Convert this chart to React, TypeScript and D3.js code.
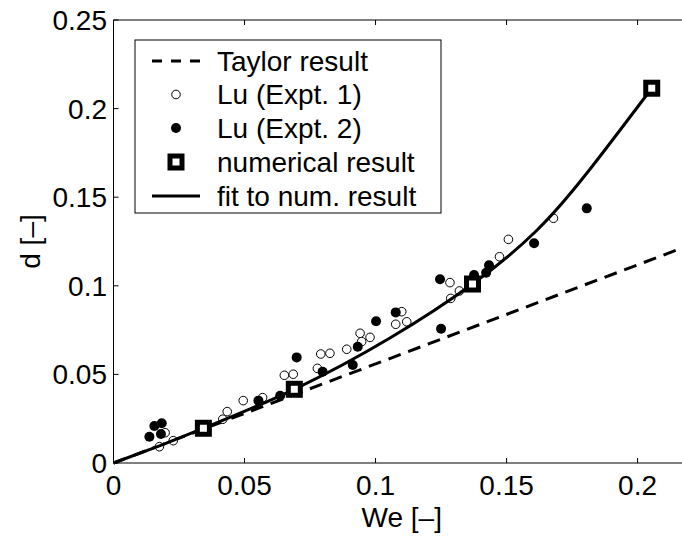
import React from "react";
import * as d3 from "d3";

const W = 682;
const H = 537;

const xTicks = [0, 0.05, 0.1, 0.15, 0.2];
const yTicks = [0, 0.05, 0.1, 0.15, 0.2, 0.25];
const xTickLabels = ["0", "0.05", "0.1", "0.15", "0.2"];
const yTickLabels = ["0", "0.05", "0.1", "0.15", "0.2", "0.25"];

// Taylor result (dashed)
const taylorWe = [0, 0.22];
const taylorD = [0, 0.123];

// Lu Expt. 1 (open circles)
const lu1We = [0.0175, 0.0197, 0.0228, 0.0417, 0.0434, 0.0495, 0.0569, 0.0652, 0.0686, 0.0778, 0.0791, 0.0826, 0.089, 0.0941, 0.0947, 0.0979, 0.1077, 0.11, 0.1119, 0.1284, 0.1287, 0.132, 0.1473, 0.1507, 0.1679];
const lu1D = [0.0092, 0.0171, 0.0126, 0.0247, 0.029, 0.0352, 0.0369, 0.0495, 0.0501, 0.0534, 0.0615, 0.0619, 0.0642, 0.0732, 0.0685, 0.0709, 0.0783, 0.0854, 0.0797, 0.1018, 0.0929, 0.0971, 0.1164, 0.1262, 0.1381];

// Lu Expt. 2 (filled circles)
const lu2We = [0.0137, 0.0156, 0.0184, 0.0181, 0.0553, 0.0636, 0.0699, 0.0798, 0.0913, 0.0932, 0.1002, 0.1077, 0.1246, 0.125, 0.1376, 0.1422, 0.1433, 0.1605, 0.1806];
const lu2D = [0.0148, 0.0209, 0.0224, 0.0164, 0.0352, 0.038, 0.0596, 0.0515, 0.0553, 0.0656, 0.08, 0.085, 0.1037, 0.0758, 0.1061, 0.1074, 0.1116, 0.124, 0.1437];

// numerical result (squares)
const numWe = [0.0343, 0.069, 0.137, 0.2054];
const numD = [0.0196, 0.0416, 0.101, 0.2115];

// fit to numerical result (solid)
const fitWe = [0, 0.017, 0.0343, 0.069, 0.1055, 0.137, 0.161, 0.1806, 0.2054];
const fitD = [0, 0.0094, 0.0196, 0.0416, 0.0705, 0.101, 0.1305, 0.1635, 0.2115];

const legendLabels = ["Taylor result", "Lu (Expt. 1)", "Lu (Expt. 2)", "numerical result", "fit to num. result"];

const FONT = "'Liberation Sans', Arial, Helvetica, sans-serif";
const FS = 28;

export default function App() {
  const x0 = 113.5, x1 = 690, yTop = 20, yBot = 463;
  const x = d3.scaleLinear().domain([0, 0.22]).range([x0, x1]);
  const y = d3.scaleLinear().domain([0, 0.25]).range([yBot, yTop]);

  const line = d3.line<[number, number]>().x((d) => x(d[0])).y((d) => y(d[1]));
  const fitLine = d3
    .line<[number, number]>()
    .x((d) => x(d[0]))
    .y((d) => y(d[1]))
    .curve(d3.curveNatural);

  const taylorPts = taylorWe.map((w, i) => [w, taylorD[i]] as [number, number]);
  const fitPts = fitWe.map((w, i) => [w, fitD[i]] as [number, number]);

  const tickLen = 5;
  const sq = 12;

  const legX = 135, legY = 40, legW = 306, legH = 173;
  const rowY = [61, 94.5, 128, 162, 196];
  const sampleX0 = 152, sampleX1 = 200, sampleXc = 176;
  const textX = 217;

  return (
    <svg
      width={W}
      height={H}
      style={{ position: "absolute", left: 0, top: 0, background: "#fff" }}
      fontFamily={FONT}
    >
      <rect x={0} y={0} width={W} height={H} fill="#fff" />
      {/* axes frame */}
      <line x1={x0} y1={yBot} x2={x1} y2={yBot} stroke="#000" strokeWidth={1} />
      <line x1={x0} y1={yTop} x2={x1} y2={yTop} stroke="#000" strokeWidth={1} />
      <line x1={x0} y1={yTop} x2={x0} y2={yBot} stroke="#000" strokeWidth={1} />
      <line x1={x1} y1={yTop} x2={x1} y2={yBot} stroke="#000" strokeWidth={1} />

      {/* x ticks */}
      {xTicks.map((t, i) => (
        <g key={"xt" + i}>
          <line x1={x(t)} x2={x(t)} y1={yBot} y2={yBot - tickLen} stroke="#000" />
          <line x1={x(t)} x2={x(t)} y1={yTop} y2={yTop + tickLen} stroke="#000" />
          <text x={x(t)} y={495} textAnchor="middle" fontSize={FS} fill="#000">
            {xTickLabels[i]}
          </text>
        </g>
      ))}
      {/* y ticks */}
      {yTicks.map((t, i) => (
        <g key={"yt" + i}>
          <line x1={x0} x2={x0 + tickLen} y1={y(t)} y2={y(t)} stroke="#000" />
          <line x1={x1} x2={x1 - tickLen} y1={y(t)} y2={y(t)} stroke="#000" />
          <text x={107} y={y(t) + 10} textAnchor="end" fontSize={FS} fill="#000">
            {yTickLabels[i]}
          </text>
        </g>
      ))}

      {/* axis labels */}
      <text x={(x0 + x1) / 2} y={527} textAnchor="middle" fontSize={FS} fill="#000">
        We [–]
      </text>
      <text
        transform={`translate(40, ${(yTop + yBot) / 2}) rotate(-90)`}
        textAnchor="middle"
        fontSize={FS}
        fill="#000"
      >
        d [–]
      </text>

      {/* Taylor dashed */}
      <path d={line(taylorPts) || ""} fill="none" stroke="#000" strokeWidth={3} strokeDasharray="13,8" />

      {/* Lu Expt 1 open circles */}
      {lu1We.map((w, i) => (
        <circle key={"a" + i} cx={x(w)} cy={y(lu1D[i])} r={4.3} fill="#fff" stroke="#000" strokeWidth={1} />
      ))}
      {/* Lu Expt 2 filled circles */}
      {lu2We.map((w, i) => (
        <circle key={"b" + i} cx={x(w)} cy={y(lu2D[i])} r={5} fill="#000" />
      ))}

      {/* fit line */}
      <path d={fitLine(fitPts) || ""} fill="none" stroke="#000" strokeWidth={3} />

      {/* numerical squares */}
      {numWe.map((w, i) => (
        <rect
          key={"s" + i}
          x={x(w) - sq / 2}
          y={y(numD[i]) - sq / 2}
          width={sq}
          height={sq}
          fill="#fff"
          stroke="#000"
          strokeWidth={5}
        />
      ))}

      {/* legend */}
      <rect x={legX} y={legY} width={legW} height={legH} fill="#fff" stroke="#000" strokeWidth={1} />
      <line x1={sampleX0} x2={sampleX1} y1={rowY[0]} y2={rowY[0]} stroke="#000" strokeWidth={3} strokeDasharray="10,9" />
      <circle cx={sampleXc} cy={rowY[1]} r={4.3} fill="#fff" stroke="#000" strokeWidth={1} />
      <circle cx={sampleXc} cy={rowY[2]} r={5} fill="#000" />
      <rect x={sampleXc - sq / 2} y={rowY[3] - sq / 2} width={sq} height={sq} fill="#fff" stroke="#000" strokeWidth={5} />
      <line x1={sampleX0} x2={sampleX1} y1={rowY[4]} y2={rowY[4]} stroke="#000" strokeWidth={3} />
      {legendLabels.map((lab, i) => (
        <text key={"l" + i} x={textX} y={rowY[i] + 9.5} fontSize={FS} fill="#000">
          {lab}
        </text>
      ))}
    </svg>
  );
}
